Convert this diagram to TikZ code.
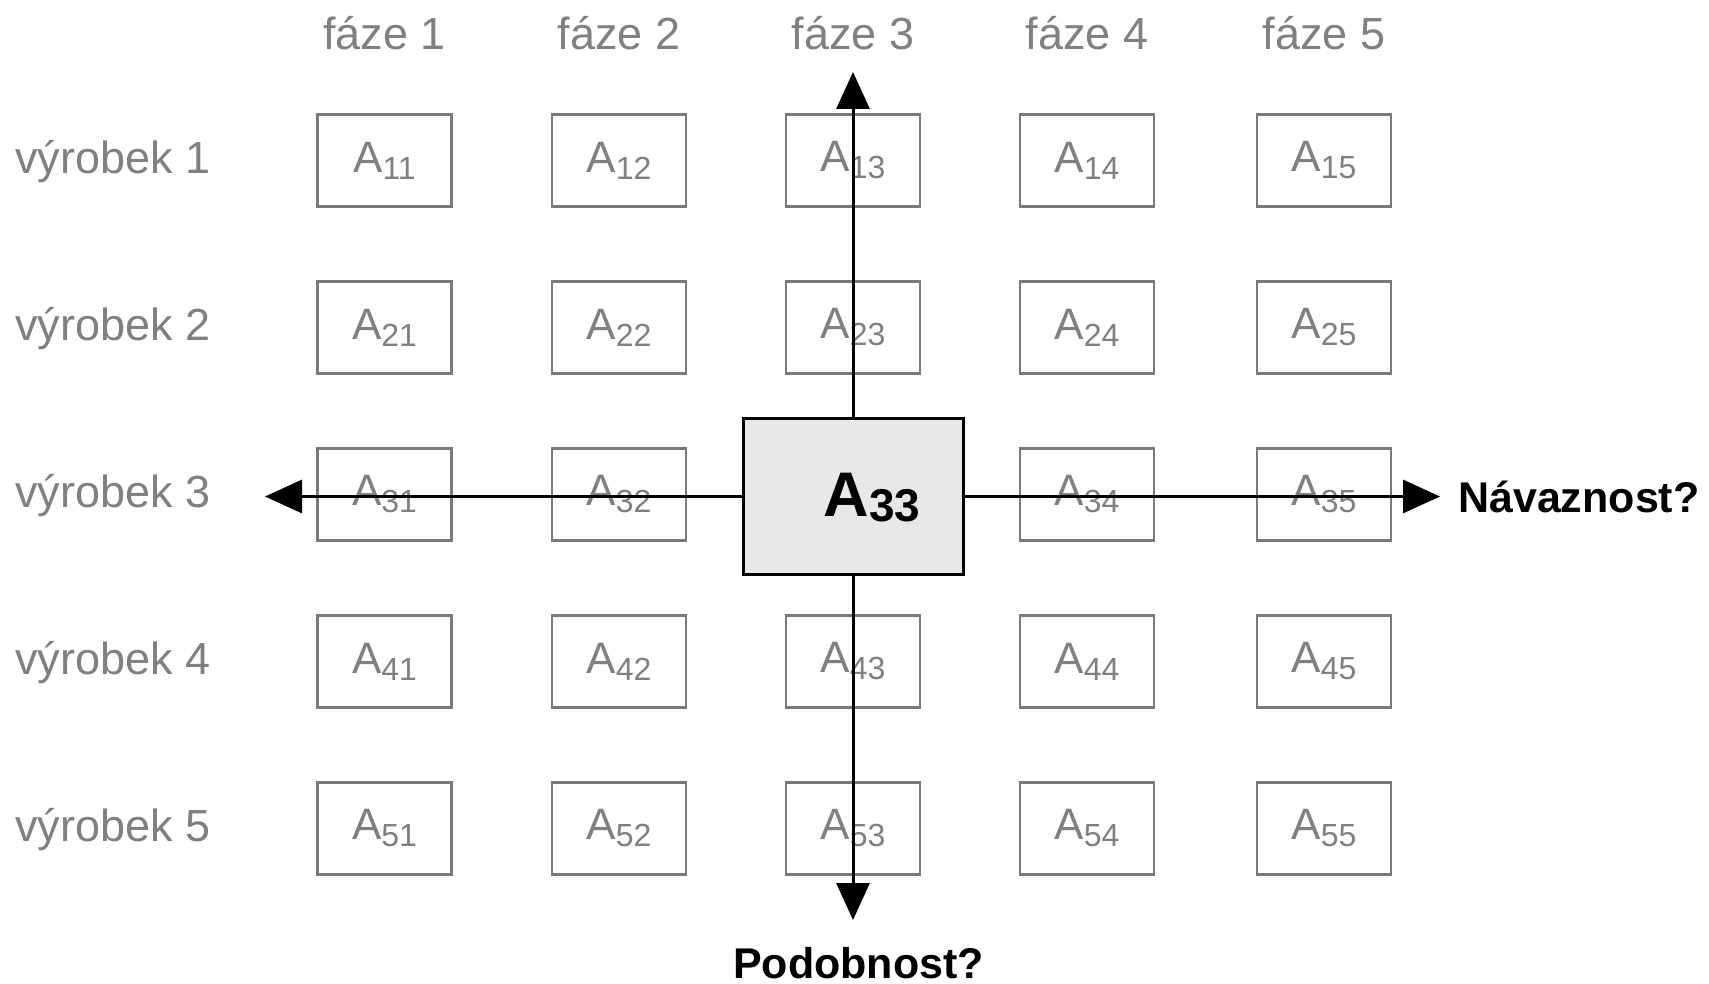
\documentclass[tikz,border=0pt]{standalone}
\usepackage{fontspec}
\setmainfont{Liberation Sans}
\usetikzlibrary{arrows.meta}
\definecolor{boxgray}{RGB}{122,122,122}
\definecolor{txtgray}{RGB}{128,128,128}
\definecolor{cellfill}{RGB}{232,232,232}
\newcommand\sbs[2]{\raisebox{-#2}{\fontsize{32}{32}\selectfont #1}}
\begin{document}
\begin{tikzpicture}[x=1pt,y=-1pt,
  cell/.style={draw=boxgray, line width=2.5pt, minimum width=134pt, minimum height=92pt,
    inner sep=0pt, text=txtgray, font=\fontsize{44}{44}\selectfont},
  hdr/.style={inner sep=0pt, text=txtgray, font=\fontsize{45}{45}\selectfont},
  big/.style={draw=black, line width=3pt, fill=cellfill, minimum width=220pt, minimum height=156pt, inner sep=0pt},
  lbl/.style={inner sep=0pt, text=black, font=\fontsize{43}{43}\selectfont\bfseries},
  arr/.style={line width=3pt, -{Triangle[length=37pt,width=33pt]}}]
\useasboundingbox (0,0) rectangle (1709,984);
\fill[white] (0,0) rectangle (1709,984);
% column headers and cells
\foreach \x [count=\c] in {384.5,619,853,1087,1324} {
  \node[hdr, anchor=base] (f\c) at (\x,50) {fáze \c};
  \foreach \y [count=\r] in {160.5,327.5,494.5,661.5,828.5} {
    \ifnum\numexpr\r*10+\c\relax=33 \else
      \node[cell] (c\r\c) at (\x,\y) {A\sbs{\r\c}{7pt}};
    \fi
  }
}
% row labels
\foreach \y [count=\r] in {160.5,327.5,494.5,661.5,828.5} {
  \node[hdr, anchor=base west] (v\r) at (15,\y+13) {výrobek \r};
}
% central cell
\node[big] (A33) at (853,496.5) {};
\node[inner sep=0pt, font=\bfseries] (A33t) at (872,498)
  {\fontsize{63}{63}\selectfont A\sbs{\fontsize{46}{46}\selectfont 33}{5pt}};
% arrow ends
\coordinate (tN) at (853,72);
\coordinate (tS) at (853,920);
\coordinate (tW) at (265,496.5);
\coordinate (tE) at (1440,496.5);
\draw[arr] (A33.north) -- (tN);
\draw[arr] (A33.south) -- (tS);
\draw[arr] (A33.west) -- (tW);
\draw[arr] (A33.east) -- (tE);
% labels
\node[lbl, anchor=base west] (nav) at (1458,512) {Návaznost?};
\node[lbl, anchor=base west] (pod) at (733,978) {Podobnost?};
\end{tikzpicture}
\end{document}
